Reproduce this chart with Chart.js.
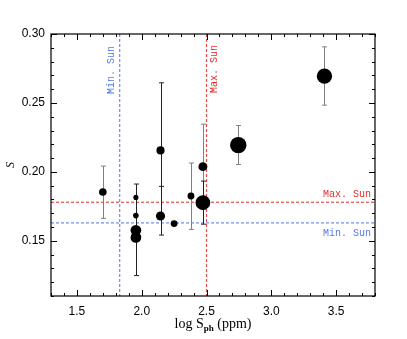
<!DOCTYPE html>
<html>
<head>
<meta charset="utf-8">
<script src="https://cdn.jsdelivr.net/npm/chart.js@4.4.1/dist/chart.umd.min.js"></script>
<style>
  html, body { margin: 0; padding: 0; background: #ffffff; }
  #wrap { width: 407px; height: 339px; }
</style>
</head>
<body>
<div id="wrap"><canvas id="sChart" width="407" height="339"></canvas></div>
<script>
// photometric variability (log S_ph, ppm) vs. S-index
const logSph   = [1.70, 1.955, 1.955, 1.955, 1.955, 2.145, 2.145, 2.25, 2.38, 2.472, 2.472, 2.745, 3.41];
const sIndex   = [0.1854, 0.1815, 0.1683, 0.1576, 0.1525, 0.2156, 0.1680, 0.1625, 0.1825, 0.2038, 0.1777, 0.2194, 0.2694];
const sLow     = [0.1663, null, null, null, 0.1248, 0.1666, 0.1542, null, 0.1583, 0.1730, 0.1621, 0.2054, 0.2484];
const sHigh    = [0.2042, null, null, null, 0.1912, 0.2646, 0.1895, null, 0.2064, 0.2346, 0.1933, 0.2337, 0.2907];
const barGroup = [1, 0, 0, 0, 0, 0, 0, 0, 1, 1, 0, 1, 1];   // 1 = grey error bar, 0 = black
const markerWeight = [1.5, 1.0, 1.1, 2.1, 2.1, 1.6, 1.8, 1.35, 1.35, 1.75, 2.9, 3.2, 3.0];

// solar reference values
const sunMinLogSph = 1.83, sunMaxLogSph = 2.50;
const sunMinS = 0.163, sunMaxS = 0.178;

// axes
const xTickValues = [1.5, 2.0, 2.5, 3.0, 3.5];
const yTickValues = [0.15, 0.20, 0.25, 0.30];
const xRange = [1.3, 3.8], yRange = [0.11, 0.30];

const BLUE = "rgb(85,120,235)";
const RED = "rgb(225,45,45)";

const points = logSph.map((x, i) => ({ x: x, y: sIndex[i] }));

// dashed reference lines built from small filled rectangles (soft, ~1.2 px wide)
function hDash(ctx, x1, x2, y, colour) {
    ctx.fillStyle = colour;
    for (let x = x1; x < x2; x += 5) ctx.fillRect(x, y - 0.6, Math.min(3, x2 - x), 1.2);
}
function vDash(ctx, y1, y2, x, colour) {
    ctx.fillStyle = colour;
    for (let y = y1; y < y2; y += 5) ctx.fillRect(x - 0.6, y, 1.2, Math.min(3, y2 - y));
}

const overlayPlugin = {
    id: "overlay",
    beforeDatasetsDraw(chart) {
        const ctx = chart.ctx;
        const a = chart.chartArea;
        const xs = chart.scales.x, ys = chart.scales.y;
        ctx.save();

        const yMin = ys.getPixelForValue(sunMinS);
        const yMax = ys.getPixelForValue(sunMaxS);
        const xMin = xs.getPixelForValue(sunMinLogSph);
        const xMax = xs.getPixelForValue(sunMaxLogSph);
        ctx.globalAlpha = 0.85;
        hDash(ctx, a.left, a.right, yMin, BLUE);
        hDash(ctx, a.left, a.right, yMax, RED);
        vDash(ctx, a.top, a.bottom, xMin, BLUE);
        vDash(ctx, a.top, a.bottom, xMax, RED);
        ctx.globalAlpha = 1;

        // error bars
        logSph.forEach((xv, i) => {
            if (sLow[i] == null) return;
            const x = Math.round(xs.getPixelForValue(xv)) + 0.5;
            const y1 = ys.getPixelForValue(sLow[i]);
            const y2 = ys.getPixelForValue(sHigh[i]);
            ctx.strokeStyle = barGroup[i] ? "#808080" : "#222222";
            ctx.lineWidth = 1;
            ctx.beginPath();
            ctx.moveTo(x, y1); ctx.lineTo(x, y2);
            ctx.moveTo(x - 2.5, y1); ctx.lineTo(x + 2.5, y1);
            ctx.moveTo(x - 2.5, y2); ctx.lineTo(x + 2.5, y2);
            ctx.stroke();
        });

        // labels for the solar lines
        ctx.font = "10px 'Liberation Mono', monospace";
        ctx.textBaseline = "middle";
        ctx.fillStyle = RED;
        ctx.textAlign = "right";
        ctx.fillText("Max. Sun", a.right - 4, yMax - 8);
        ctx.fillStyle = BLUE;
        ctx.fillText("Min. Sun", a.right - 4, yMin + 10);

        ctx.textAlign = "center";
        ctx.save();
        ctx.translate(xMin - 8, 70);
        ctx.rotate(-Math.PI / 2);
        ctx.fillStyle = BLUE;
        ctx.fillText("Min. Sun", 0, 0);
        ctx.restore();
        ctx.save();
        ctx.translate(xMax + 8, 69);
        ctx.rotate(-Math.PI / 2);
        ctx.fillStyle = RED;
        ctx.fillText("Max. Sun", 0, 0);
        ctx.restore();

        ctx.restore();
    },
    afterDraw(chart) {
        const ctx = chart.ctx;
        const a = chart.chartArea;
        const xs = chart.scales.x, ys = chart.scales.y;
        ctx.save();
        ctx.strokeStyle = "#000";
        ctx.lineWidth = 1.2;
        ctx.strokeRect(a.left, a.top, a.right - a.left, a.bottom - a.top);

        // inward ticks on all four sides
        ctx.lineWidth = 1;
        ctx.beginPath();
        for (let k = 13; k <= 38; k++) {
            const x = Math.round(xs.getPixelForValue(k / 10)) + 0.5;
            const len = (k % 5 === 0) ? 6 : 3;
            ctx.moveTo(x, a.bottom); ctx.lineTo(x, a.bottom - len);
            ctx.moveTo(x, a.top); ctx.lineTo(x, a.top + len);
        }
        for (let k = 11; k <= 30; k++) {
            const y = Math.round(ys.getPixelForValue(k / 100)) + 0.5;
            const len = (k % 5 === 0) ? 6 : 3;
            ctx.moveTo(a.left, y); ctx.lineTo(a.left + len, y);
            ctx.moveTo(a.right, y); ctx.lineTo(a.right - len, y);
        }
        ctx.stroke();

        // axis titles
        ctx.fillStyle = "#000";
        ctx.textBaseline = "alphabetic";
        const cx = (a.left + a.right) / 2;
        const main = "14px 'Liberation Serif', serif";
        const sub = "bold 9px 'Liberation Serif', serif";
        ctx.font = main;
        const w1 = ctx.measureText("log S").width;
        const w3 = ctx.measureText(" (ppm)").width;
        ctx.font = sub;
        const w2 = ctx.measureText("ph").width;
        const x0 = cx - (w1 + w2 + w3) / 2;
        const base = 328;
        ctx.textAlign = "left";
        ctx.font = main;
        ctx.fillText("log S", x0, base);
        ctx.font = sub;
        ctx.fillText("ph", x0 + w1, base + 3);
        ctx.font = main;
        ctx.fillText(" (ppm)", x0 + w1 + w2, base);

        ctx.save();
        ctx.translate(14, (a.top + a.bottom) / 2);
        ctx.rotate(-Math.PI / 2);
        ctx.textAlign = "center";
        ctx.font = "italic 12px 'Liberation Serif', serif";
        ctx.fillText("S", 0, 0);
        ctx.restore();
        ctx.restore();
    }
};

const chart = new Chart(document.getElementById("sChart"), {
    type: "scatter",
    data: {
        datasets: [{
            data: points,
            backgroundColor: "#000",
            borderColor: "#000",
            borderWidth: 0,
            pointRadius: markerWeight.map(w => w * 2.55),
            pointHoverRadius: markerWeight.map(w => w * 2.55)
        }]
    },
    options: {
        responsive: false,
        animation: false,
        layout: { padding: { top: 34, right: 32, left: 0, bottom: 0 } },
        plugins: { legend: { display: false }, tooltip: { enabled: false } },
        scales: {
            x: {
                type: "linear",
                min: xRange[0], max: xRange[1],
                grid: { display: false, drawTicks: false },
                border: { display: false },
                afterBuildTicks: s => { s.ticks = xTickValues.map(v => ({ value: v })); },
                afterFit: s => { s.height = 43; },
                ticks: {
                    padding: 8,
                    color: "#000",
                    font: { family: "'Liberation Sans', Arial, sans-serif", size: 12 },
                    maxRotation: 0,
                    callback: v => v.toFixed(1)
                }
            },
            y: {
                type: "linear",
                min: yRange[0], max: yRange[1],
                grid: { display: false, drawTicks: false },
                border: { display: false },
                afterBuildTicks: s => { s.ticks = yTickValues.map(v => ({ value: v })); },
                afterFit: s => { s.width = 51; },
                ticks: {
                    padding: 6,
                    color: "#000",
                    font: { family: "'Liberation Sans', Arial, sans-serif", size: 12 },
                    callback: v => v.toFixed(2)
                }
            }
        }
    },
    plugins: [overlayPlugin]
});
</script>
</body>
</html>
